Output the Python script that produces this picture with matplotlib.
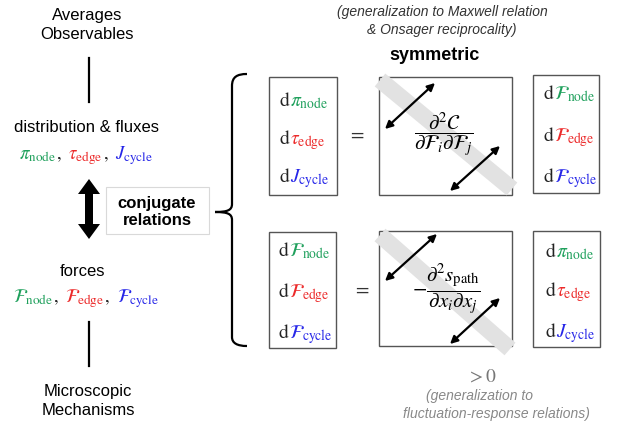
import matplotlib
matplotlib.use('Agg')
import matplotlib.pyplot as plt
from matplotlib.patches import Rectangle, FancyArrow, FancyArrowPatch, PathPatch
from matplotlib.path import Path

plt.rcParams['font.family'] = ['Liberation Sans', 'DejaVu Sans']
plt.rcParams['mathtext.fontset'] = 'stix'

# ---- content ----
GREEN, RED, BLUE = '#1fa05c', '#ec2a2a', '#2626e8'
subscripts = ['node', 'edge', 'cycle']
sub_colors = [GREEN, RED, BLUE]
flux_syms = [r'\pi', r'\tau', r'J']
force_syms = [r'\mathcal{F}', r'\mathcal{F}', r'\mathcal{F}']
top_label = "Averages\nObservables"
flux_label = "distribution & fluxes"
force_label = "forces"
bottom_label = "Microscopic\nMechanisms"
conj_label = "conjugate\nrelations"
sym_label = "symmetric"
top_note = "(generalization to Maxwell relation\n& Onsager reciprocality)"
pos_label = r'$>0$'
bottom_note1 = "(generalization to"
bottom_note2 = "fluctuation-response relations)"
hess_top = r'$\dfrac{\partial^2 \mathcal{C}}{\partial \mathcal{F}_i \partial \mathcal{F}_j}$'
hess_bot = r'$-\dfrac{\partial^2 s_{\mathrm{path}}}{\partial x_i \partial x_j}$'

fig = plt.figure(figsize=(6.2, 4.35), dpi=100)
ax = fig.add_axes([0, 0, 1, 1])
ax.set_xlim(0, 620)
ax.set_ylim(435, 0)
ax.axis('off')
R = fig.canvas.get_renderer()


def sym(s, sub):
    return r'%s_{\mathrm{%s}}' % (s, sub)


def width_of(inner, size):
    t = ax.text(0, 0, '$' + inner + '$', fontsize=size)
    w = t.get_window_extent(renderer=R).width
    t.remove()
    return w


def pieces_line(x, y, pieces, size, ha='left', gap=2.0):
    total = width_of(''.join(p for p, _ in pieces), size) + gap * (len(pieces) - 1)
    x0 = x - total / 2 if ha == 'center' else x
    for i, (s, c) in enumerate(pieces):
        wcum = width_of(''.join(p for p, _ in pieces[:i + 1]), size)
        wi = width_of(s, size)
        ax.text(x0 + wcum - wi + gap * i, y, '$' + s + '$', color=c, fontsize=size,
                va='baseline', ha='left', zorder=6)


# ---- left column ----
ax.text(87, 25, top_label, ha='center', va='center', fontsize=12, linespacing=1.3)
ax.plot([89, 89], [59, 103], color='black', lw=1.6)
ax.text(87, 127, flux_label, ha='center', va='center', fontsize=12)

def list_pieces(syms):
    p = []
    for i, (s, sub, c) in enumerate(zip(syms, subscripts, sub_colors)):
        p.append((sym(s, sub), c))
        if i < len(syms) - 1:
            p.append((r',\ ', '#222222'))
    return p

pieces_line(86, 159, list_pieces(flux_syms), 13.5, ha='center', gap=0.8)
pieces_line(86, 302, list_pieces(force_syms), 13.5, ha='center', gap=0.8)

ax.add_patch(FancyArrow(89, 210, 0, -30, width=8, head_width=22, head_length=15,
                        length_includes_head=True, color='black', lw=0))
ax.add_patch(FancyArrow(89, 210, 0, 30, width=8, head_width=22, head_length=15,
                        length_includes_head=True, color='black', lw=0))
ax.add_patch(Rectangle((106, 188), 103, 47, fill=False, edgecolor='#d9d9d9', lw=0.8))
ax.text(157, 212, conj_label, ha='center', va='center', fontsize=12,
        fontweight='bold', linespacing=1.2)

ax.text(82, 272, force_label, ha='center', va='center', fontsize=12)
ax.plot([89, 89], [323, 367], color='black', lw=1.6)
ax.text(88, 401, bottom_label, ha='center', va='center', fontsize=12, linespacing=1.3)

# ---- brace ----
M, C4, L = Path.MOVETO, Path.CURVE4, Path.LINETO
verts = [(247, 75), (237, 75), (232, 78), (232, 87),
         (232, 205),
         (232, 211), (228, 213), (215, 213),
         (228, 213), (232, 215), (232, 221),
         (232, 338),
         (232, 344), (237, 347), (247, 347)]
codes = [M, C4, C4, C4, L, C4, C4, C4, C4, C4, C4, L, C4, C4, C4]
ax.add_patch(PathPatch(Path(verts, codes), fill=False, edgecolor='black', lw=1.6))

# ---- top notes ----
ax.text(442, 21, top_note, ha='center', va='center', fontsize=10, style='italic',
        color='#333333', linespacing=1.3)
ax.text(434, 55, sym_label, ha='center', va='center', fontsize=13, fontweight='bold')

# ---- matrix equations ----
BOX_EC = '#555555'
def box(x0, y0, x1, y1):
    ax.add_patch(Rectangle((x0, y0), x1 - x0, y1 - y0, fill=False, edgecolor=BOX_EC, lw=1.0, zorder=2))

def dvec(x, baselines, syms):
    for y, s, sub, c in zip(baselines, syms, subscripts, sub_colors):
        pieces_line(x, y, [(r'\mathrm{d}', '#222222'), (sym(s, sub), c)], 14, gap=1.5)

def band(p0, p1):
    ax.plot([p0[0], p1[0]], [p0[1], p1[1]], color='#e2e2e2', lw=12, solid_capstyle='butt', zorder=3)

def darrow(p0, p1):
    ax.add_patch(FancyArrowPatch(p0, p1, arrowstyle='<|-|>', mutation_scale=11,
                                 color='black', lw=1.6, zorder=5, shrinkA=0, shrinkB=0))

# top equation
box(269, 78, 337, 196)
dvec(279, [106, 144, 182], flux_syms)
ax.text(357, 135, '$=$', ha='center', va='center', fontsize=14, color='#333333')
box(379, 78, 512, 196)
band((380, 81), (512, 190))
darrow((385, 130), (435, 84))
darrow((450, 192), (500, 147))
ax.text(444, 134, hess_top, ha='center', va='center', fontsize=15, zorder=6)
box(533, 76, 599, 194)
dvec(543, [99, 141, 182], force_syms)

# bottom equation
box(269, 233, 336, 349)
dvec(278, [256, 297, 338], force_syms)
ax.text(362, 290, '$=$', ha='center', va='center', fontsize=14, color='#333333')
box(379, 232, 512, 347)
band((380, 236), (510, 350))
darrow((385, 282), (437, 235))
darrow((450, 345), (500, 299))
ax.text(446, 290, hess_bot, ha='center', va='center', fontsize=15, zorder=6)
box(533, 232, 600, 348)
dvec(545, [257, 296, 337], flux_syms)

# ---- bottom notes ----
ax.text(482, 377, pos_label, ha='center', va='center', fontsize=14, color='#777777')
ax.text(480, 396, bottom_note1, ha='center', va='center', fontsize=10, style='italic', color='#888888')
ax.text(496, 414, bottom_note2, ha='center', va='center', fontsize=10, style='italic', color='#888888')

fig.savefig('out.png', dpi=100)
